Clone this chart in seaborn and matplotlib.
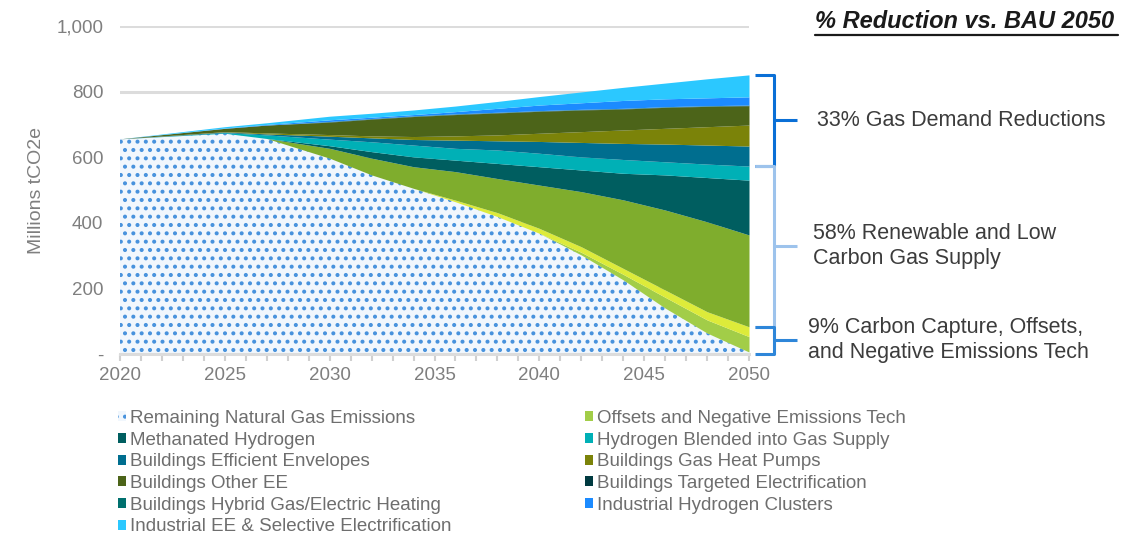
import matplotlib
matplotlib.use("Agg")
import numpy as np
import pandas as pd
import matplotlib.pyplot as plt
import seaborn as sns
from matplotlib.patches import Patch
from matplotlib.lines import Line2D
from matplotlib.ticker import FuncFormatter, MultipleLocator

# ---------------- data (Millions tCO2e) ----------------
years = [2020, 2025, 2027, 2030, 2032, 2034, 2036, 2038, 2040, 2042, 2044, 2046, 2048, 2050]
remaining_gas   = [656, 673, 657, 597, 546, 505, 464, 419, 368, 302, 226, 140, 64, 6]
offsets_net     = [0, 0, 0, 0, 0, 0, 0, 0, 0, 8, 17, 33, 40, 47]
carbon_capture  = [0, 0, 0, 0, 0, 0, 5, 12, 15, 17, 18, 22, 25, 30]
renewable_gas   = [0, 0, 0, 30, 51, 66, 87, 104, 132, 168, 209, 244, 274, 280]
methanated_h2   = [0, 0, 0, 8, 20, 30, 35, 46, 56, 66, 81, 107, 135, 167]
h2_blended      = [0, 2, 11, 20, 30, 36, 36, 41, 41, 40, 42, 40, 41, 43]
bldg_envelopes  = [0, 2, 3, 9, 12, 17, 25, 28, 36, 44, 49, 54, 58, 61]
bldg_gas_hp     = [0, 1, 3, 5, 6, 9, 13, 18, 25, 33, 41, 48, 56, 64]
bldg_other_ee   = [0, 10, 24, 38, 51, 61, 65, 67, 67, 66, 64, 64, 62, 59]
bldg_targeted   = [0, 0, 0, 1, 1, 1, 1, 1, 1, 1, 1, 1, 1, 1]
bldg_hybrid     = [0, 0, 0, 1, 1, 1, 1, 1, 1, 1, 1, 1, 1, 1]
ind_h2_clusters = [0, 1, 2, 5, 4, 4, 7, 12, 17, 20, 24, 24, 24, 25]
ind_ee_elec     = [0, 4, 5, 11, 12, 14, 17, 21, 26, 33, 40, 48, 58, 67]

series_names = [
    "Remaining Natural Gas Emissions",
    "Offsets and Negative Emissions Tech",
    "Carbon Capture",
    "Renewable Natural Gas",
    "Methanated Hydrogen",
    "Hydrogen Blended into Gas Supply",
    "Buildings Efficient Envelopes",
    "Buildings Gas Heat Pumps",
    "Buildings Other EE",
    "Buildings Targeted Electrification",
    "Buildings Hybrid Gas/Electric Heating",
    "Industrial Hydrogen Clusters",
    "Industrial EE & Selective Electrification",
]
series_values = [remaining_gas, offsets_net, carbon_capture, renewable_gas,
                 methanated_h2, h2_blended, bldg_envelopes, bldg_gas_hp,
                 bldg_other_ee, bldg_targeted, bldg_hybrid, ind_h2_clusters,
                 ind_ee_elec]
colors = ["#F1F7FD", "#A2CD48", "#DDEB3A", "#7FAD2D", "#005E60", "#00B0B6",
          "#006E8F", "#7B8309", "#4C6419", "#003A40", "#00706E", "#1C8BFF",
          "#2BC8FF"]

legend_order = [
    "Remaining Natural Gas Emissions", "Methanated Hydrogen",
    "Buildings Efficient Envelopes", "Buildings Other EE",
    "Buildings Hybrid Gas/Electric Heating",
    "Industrial EE & Selective Electrification",
    "Offsets and Negative Emissions Tech", "Hydrogen Blended into Gas Supply",
    "Buildings Gas Heat Pumps", "Buildings Targeted Electrification",
    "Industrial Hydrogen Clusters",
]

bracket_labels = ["33% Gas Demand Reductions",
                  "58% Renewable and Low\nCarbon Gas Supply",
                  "9% Carbon Capture, Offsets,\nand Negative Emissions Tech"]
bracket_colors = ["#0A6FD6", "#9DC3EC", "#2E86D9"]
bracket_text_x = [2053.24, 2053.05, 2052.81]

df = pd.DataFrame(dict(zip(series_names, series_values)), index=years)

# ---------------- style ----------------
sns.set_theme(style="white")
plt.rcParams["font.family"] = ["Liberation Sans", "DejaVu Sans"]
plt.rcParams["hatch.linewidth"] = 1.7

W, H = 1125, 536
fig = plt.figure(figsize=(W / 100, H / 100), dpi=100)
ax = fig.add_axes([120 / W, 1 - 354 / H, (749 - 120) / W, (354 - 26) / H])

cum = df.cumsum(axis=1)
x = np.array(years)
handles = {}
prev = np.zeros(len(years))
for i, name in enumerate(series_names):
    top = cum[name].values
    if i == 0:
        ax.fill_between(x, prev, top, facecolor=colors[i], edgecolor="#4792DD",
                        hatch="..", linewidth=0, zorder=2)
        handles[name] = Patch(facecolor=colors[i], edgecolor="#4792DD",
                              hatch="..", linewidth=0)
    else:
        ax.fill_between(x, prev, top, facecolor=colors[i], linewidth=0,
                        zorder=2)
        handles[name] = Patch(facecolor=colors[i], linewidth=0)
    prev = top

ax.set_xlim(2020, 2050)
ax.set_ylim(0, 1000)
ax.yaxis.set_major_locator(MultipleLocator(200))
ax.yaxis.set_major_formatter(FuncFormatter(lambda v, p: "-" if v == 0 else f"{int(v):,}"))
ax.xaxis.set_major_locator(MultipleLocator(5))
ax.xaxis.set_minor_locator(MultipleLocator(1))
ax.xaxis.set_major_formatter(FuncFormatter(lambda v, p: f"{int(v)}"))
ax.yaxis.grid(True, color="#DCDCDC", linewidth=2.2, zorder=0)
ax.xaxis.grid(False)
ax.set_axisbelow(True)
sns.despine(ax=ax, left=True, top=True, right=True)
ax.spines["bottom"].set_color("#DCDCDC")
ax.spines["bottom"].set_linewidth(2.2)
ax.tick_params(axis="x", which="both", direction="out", length=5, width=1.5,
               color="#D0D0D0", labelsize=13.5, labelcolor="#7F7F7F", pad=4,
               bottom=True)
ax.tick_params(axis="y", length=0, labelsize=13.5, labelcolor="#7F7F7F", pad=12)
ax.set_ylabel("Millions tCO2e", fontsize=14, color="#7F7F7F", labelpad=8)

# ---------------- brackets ----------------
tot = cum.iloc[-1]
b_top = tot[series_names[-1]]
b_supply = tot["Hydrogen Blended into Gas Supply"]
b_cc = tot["Carbon Capture"]
spans = [(b_supply, b_top), (b_cc, b_supply), (0, b_cc)]
x0, xv, xn = 2050.3, 2051.2, 2052.3
for (lo, hi), label, col, xt in zip(spans, bracket_labels, bracket_colors, bracket_text_x):
    mid = (lo + hi) / 2
    kw = dict(color=col, linewidth=2.2, clip_on=False, solid_capstyle="butt")
    ax.plot([x0, xv, xv, x0], [hi, hi, lo, lo], **kw)
    ax.plot([xv, xn], [mid, mid], **kw)
    ax.text(xt, mid, label, fontsize=15.5, color="#3C3C3C", va="center",
            ha="left", linespacing=1.25, clip_on=False)

# ---------------- title ----------------
fig.text(815 / W, 1 - 22 / H, "% Reduction vs. BAU 2050", fontsize=17,
         fontweight="bold", fontstyle="italic", color="#1A1A1A",
         ha="left", va="center")
fig.add_artist(Line2D([815 / W, 1118 / W], [1 - 35 / H, 1 - 35 / H],
                      color="#1A1A1A", linewidth=1.6, transform=fig.transFigure))

# ---------------- legend ----------------
leg = fig.legend([handles[n] for n in legend_order], legend_order,
                 loc="upper left", bbox_to_anchor=(118 / W, 1 - 410 / H),
                 ncol=2, frameon=False, fontsize=13.5, labelcolor="#6E6E6E",
                 handlelength=0.45, handleheight=0.45, handletextpad=0.2,
                 labelspacing=0.25, columnspacing=7.1, borderpad=0,
                 borderaxespad=0)

fig.savefig("out.png", dpi=100)
